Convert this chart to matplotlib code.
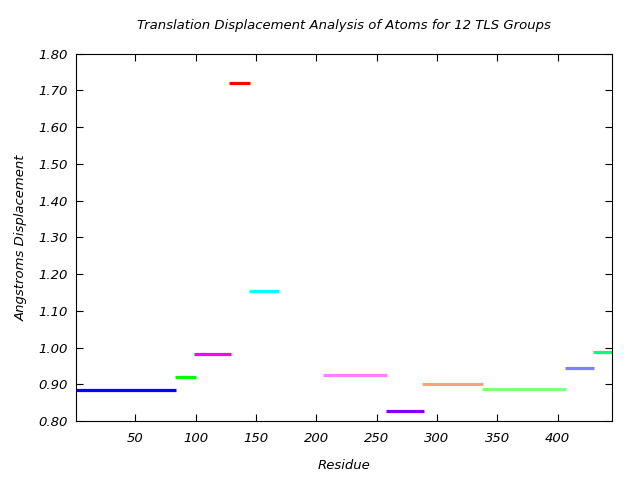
import matplotlib
matplotlib.use("Agg")
import matplotlib.pyplot as plt

# TLS group residue ranges and translation displacement
starts = [1, 83, 99, 128, 144, 206, 258, 288, 337, 406, 429]
ends = [84, 100, 129, 145, 169, 259, 289, 338, 407, 430, 446]
displacement = [0.883, 0.921, 0.981, 1.720, 1.153, 0.924, 0.828, 0.902, 0.888, 0.943, 0.987]
colors = ['#0000ff', '#00ff00', '#ff00ff', '#ff0000', '#00ffff', '#ff80ff',
          '#8000ff', '#ffa07a', '#80ff80', '#8080ff', '#00ff80']

x_ticks = [50, 100, 150, 200, 250, 300, 350, 400]
y_ticks = [0.80, 0.90, 1.00, 1.10, 1.20, 1.30, 1.40, 1.50, 1.60, 1.70, 1.80]

fig = plt.figure(figsize=(6.4, 4.8), dpi=100)
ax = fig.add_axes([0.119, 0.123, 0.837, 0.765])

ax.hlines(displacement, starts, ends, colors=colors, linewidth=2.3)

ax.set_xlim(1, 445)
ax.set_ylim(0.80, 1.80)
ax.set_xticks(x_ticks)
ax.set_xticklabels([str(t) for t in x_ticks])
ax.set_yticks(y_ticks)
ax.set_yticklabels(["%.2f" % t for t in y_ticks])
ax.tick_params(direction='in', top=True, right=True, length=5, labelsize=9.5)
for lab in ax.get_xticklabels() + ax.get_yticklabels():
    lab.set_fontstyle('italic')
ax.tick_params(axis='x', pad=8)
ax.tick_params(axis='y', pad=6)

ax.set_title("Translation Displacement Analysis of Atoms for 12 TLS Groups",
             fontsize=9.5, style='italic', pad=18)
ax.set_xlabel("Residue", fontsize=9.5, style='italic', labelpad=10)
ax.set_ylabel("Angstroms Displacement", fontsize=9.5, style='italic', labelpad=8)

fig.savefig("out.png", dpi=100)
